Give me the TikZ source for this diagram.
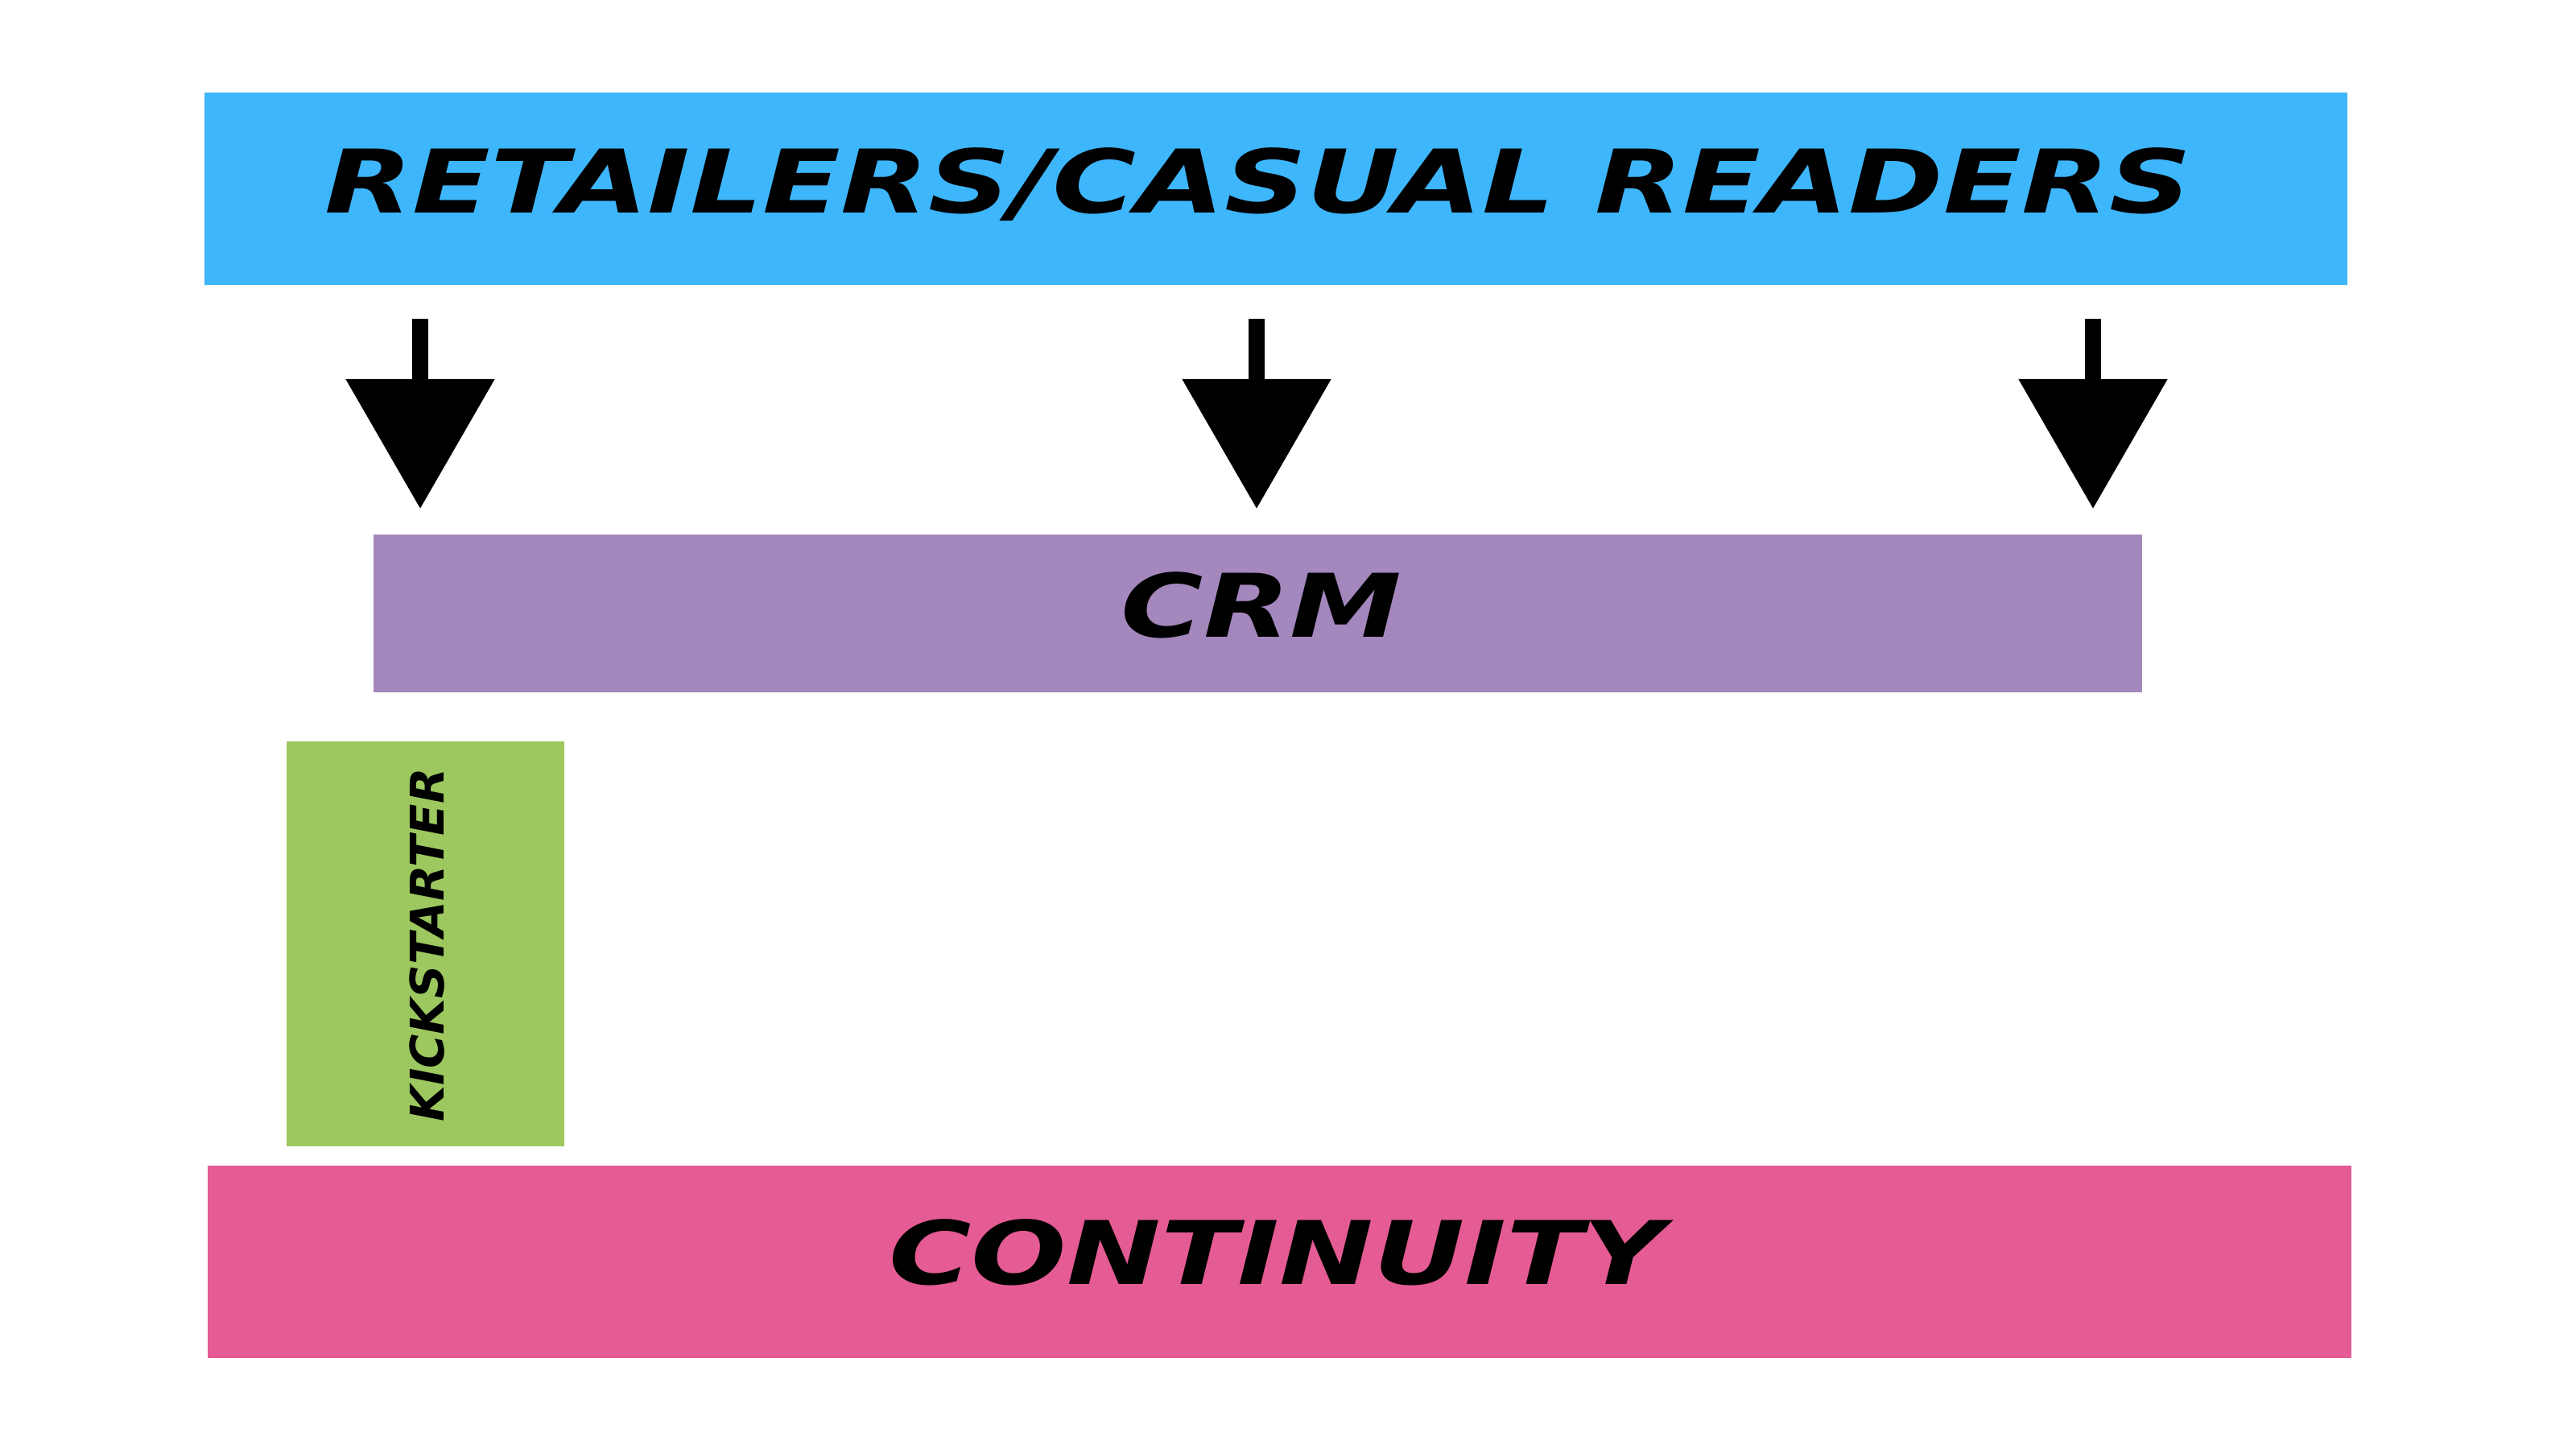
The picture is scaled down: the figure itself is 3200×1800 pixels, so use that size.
\documentclass[tikz,border=0pt]{standalone}
\usepackage{fontspec}
\setmainfont{DejaVu Sans}
\newfontfamily\widefont[FakeStretch=1.28]{DejaVu Sans Bold Oblique}
\newfontfamily\widerfont[FakeStretch=1.30]{DejaVu Sans Bold Oblique}
\newfontfamily\sidefont{DejaVu Sans Bold Oblique}
\usetikzlibrary{arrows.meta}
\definecolor{topblue}{RGB}{62,182,252}
\definecolor{crmpurple}{RGB}{164,135,189}
\definecolor{kickgreen}{RGB}{156,200,95}
\definecolor{contpink}{RGB}{229,91,147}
\tikzset{
  band/.style={anchor=north west, inner sep=0pt, text=black},
  bandtext/.style={font=\widefont\fontsize{31}{31}\selectfont},
  bigarrow/.style={line width=0.2cm, -{Triangle[length=1.61cm,width=1.8cm]}}
}
\begin{document}
\begin{tikzpicture}[x=0.01cm,y=-0.01cm]
\useasboundingbox (0,0) rectangle (3200,1800);
\fill[white] (0,0) rectangle (3200,1800);

% boxes
\node[band, fill=topblue, minimum width=26.61cm, minimum height=2.39cm] (readers) at (253,114) {};
\node[bandtext, font=\widerfont\fontsize{31}{31}\selectfont] (readerstext) at (1563,229) {RETAILERS/CASUAL READERS};

\node[band, fill=crmpurple, minimum width=21.96cm, minimum height=1.96cm] (crm) at (463,663) {};
\node[bandtext] (crmtext) at (1567,752) {CRM};

\node[band, fill=kickgreen, minimum width=3.45cm, minimum height=5.03cm] (kick) at (355,920) {};
\node[font=\sidefont\fontsize{16.4}{16.4}\selectfont, rotate=90] (kicktext) at (530,1174) {KICKSTARTER};

\node[band, fill=contpink, minimum width=26.62cm, minimum height=2.39cm] (cont) at (257,1447) {};
\node[bandtext] (conttext) at (1586,1556) {CONTINUITY};

% arrows
\foreach \x/\n in {522/1,1561/2,2600/3}
{
	\coordinate (from\n) at (\x,396);
	\coordinate (to\n) at (\x,632);
	\draw[bigarrow] (from\n) -- (to\n);
}
\end{tikzpicture}
\end{document}
